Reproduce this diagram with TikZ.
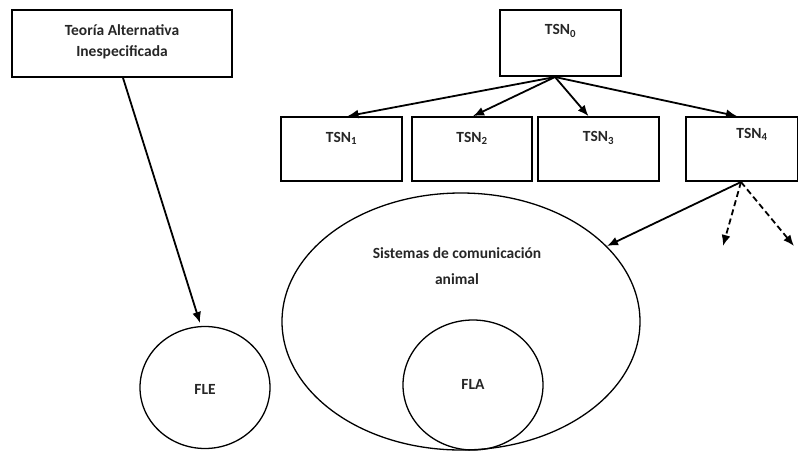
\documentclass[tikz,border=0pt]{standalone}
\usepackage{fontspec}
\setmainfont{Carlito}
\usetikzlibrary{arrows.meta}
\begin{document}
\begin{tikzpicture}[x=1pt,y=-1pt,
  every node/.style={font=\bfseries\fontsize{15.5}{18}\selectfont, inner sep=0pt},
  box/.style={draw, line width=1.7pt, minimum width=#1, minimum height=64pt},
  lbl/.style={text=black!85},
  ring/.style={line width=1.3pt},
  conn/.style={line width=1.8pt, -{Latex[length=11pt,width=9pt]}},
  dconn/.style={conn, dash pattern=on 6pt off 3.5pt}]
\useasboundingbox (0,0) rectangle (798,453);
% boxes
\node[box=220pt, minimum height=67pt] (tia) at (122,43.5) {};
\node[lbl, align=center] (tiat) at (122,42) {Teoría Alternativa\\[3pt]Inespecificada};
\node[box=121pt, minimum height=66pt] (tsn0) at (560.5,43) {};
\node[lbl] (tsn0t) at (560.5,31) {TSN\textsubscript{0}};
\node[box=121pt] (tsn1) at (341.5,149) {};
\node[lbl] (tsn1t) at (341.5,138) {TSN\textsubscript{1}};
\node[box=120pt] (tsn2) at (472,149) {};
\node[lbl] (tsn2t) at (472,138) {TSN\textsubscript{2}};
\node[box=121pt] (tsn3) at (598.5,149) {};
\node[lbl] (tsn3t) at (598.5,138) {TSN\textsubscript{3}};
\node[box=112pt] (tsn4) at (742,149) {};
\node[lbl] (tsn4t) at (752,134) {TSN\textsubscript{4}};
% ellipses
\draw[ring] (461,321.5) ellipse [x radius=179, y radius=128.5];
\node[lbl, align=center] (sca) at (457,266) {Sistemas de comunicación\\[8pt]animal};
\draw[ring] (473,385) ellipse [x radius=70, y radius=65];
\node[lbl] (fla) at (473,384) {FLA};
\draw[ring] (205,387.5) ellipse [x radius=65, y radius=61];
\node[lbl] (fle) at (205,389) {FLE};
% connectors
\coordinate (top0) at (555,77);
\coordinate (bot4) at (741,182);
\coordinate (bigin) at (607,246);
\coordinate (d1) at (723,246);
\coordinate (d2) at (794,246);
\coordinate (flein) at (200,323);
\draw[conn] ([xshift=1pt]tia.south) -- (flein);
\draw[conn] (top0) -- ([xshift=6pt]tsn1.north);
\draw[conn] (top0) -- ([xshift=1pt]tsn2.north);
\draw[conn] (top0) -- ([xshift=-10pt]tsn3.north);
\draw[conn] (top0) -- ([xshift=-5pt]tsn4.north);
\draw[conn] (bot4) -- (bigin);
\draw[dconn] (bot4) -- (d1);
\draw[dconn] (bot4) -- (d2);
\end{tikzpicture}
\end{document}
